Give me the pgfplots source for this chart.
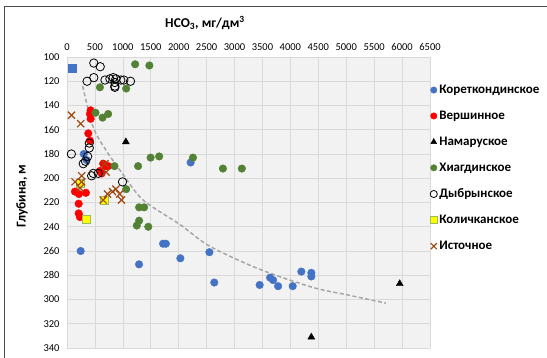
\documentclass[border=0pt]{standalone}
\usepackage{fontspec}
\setmainfont{Carlito}
\usepackage{pgfplots}
\pgfplotsset{compat=1.18}
\definecolor{cblue}{HTML}{4472C4}
\definecolor{cred}{HTML}{FF0000}
\definecolor{cgreen}{HTML}{548235}
\definecolor{cbrown}{HTML}{9E480E}
\definecolor{cyel}{HTML}{FFFF00}
\definecolor{cyelb}{HTML}{9BBB59}
\definecolor{ctrend}{HTML}{A6A6A6}
\begin{document}
\begin{tikzpicture}[x=1pt,y=1pt]
\useasboundingbox (0,0) rectangle (547,-358);
\draw[black!70, line width=0.8pt] (4,-360) -- (4,-6) -- (550,-6);
\begin{axis}[
  at={(248.5pt,-202.5pt)}, anchor=center,
  width=363pt, height=291pt, scale only axis,
  xmin=0, xmax=6500, ymin=100, ymax=340, y dir=reverse,
  xtick={0,500,...,6500}, ytick={100,120,...,340},
  xticklabel pos=top,
  grid=major, major grid style={draw=gray!30, line width=0.6pt},
  axis background/.style={fill=gray!10},
  axis line style={draw=none},
  tick style={draw=none},
  /pgf/number format/assume math mode=true,
  /pgf/number format/1000 sep={},
  ticklabel style={font=\fontsize{10.5}{12}\selectfont},
  yticklabel style={xshift=-4pt},
  xticklabel style={yshift=3pt},
  legend image code/.code={\draw[mark repeat=2,mark phase=2,#1,scale=0.85] plot coordinates {(0pt,0pt) (4pt,0pt) (8pt,0pt)};},
  legend style={draw=none, fill=none, inner xsep=0pt, at={(1.0,0.918)}, anchor=north west,
    font=\fontsize{13}{14}\selectfont\bfseries, row sep=12pt,
    nodes={inner xsep=2pt},
    /tikz/every even column/.append style={column sep=0pt}},
  legend cell align=left,
]
\addplot[only marks, mark=*, mark size=3.8pt, draw=cblue, fill=cblue] coordinates {
(245,260) (1290,271) (1720,254) (1770,254) (2030,266) (2550,261) (2637,286)
(3450,288) (3637,282) (3690,284) (3780,289) (4041,289) (4196,277) (4375,278)
(4375,281) (2214,187) (300,180) (350,185)};
\addlegendentry{Кореткондинское}
\addplot[only marks, mark=*, mark size=3.8pt, draw=cred, fill=cred] coordinates {
(423,144) (411,147) (423,151) (381,163) (411,169) (648,188) (696,190) (737,190)
(589,194) (620,196) (143,211) (214,213) (339,212) (209,221) (209,229) (232,232)};
\addlegendentry{Вершинное}
\addplot[only marks, mark=triangle*, mark size=4pt, draw=black, fill=black] coordinates {
(1054,170) (5958,287) (4375,331)};
\addlegendentry{Намаруское}
\addplot[only marks, mark=*, mark size=3.8pt, draw=cgreen, fill=cgreen] coordinates {
(1220,106) (1475,107) (590,125) (1060,126) (510,146) (637,150) (737,147)
(850,190) (1273,190) (1497,183) (1650,182) (2256,183) (2792,192) (3131,192)
(1060,209) (1291,224) (1381,224) (1291,235) (1250,239) (1455,240)};
\addlegendentry{Хиагдинское}
\addplot[only marks, mark=o, mark size=4.2pt, draw=black, line width=0.8pt] coordinates {
(480,105) (595,108) (360,120) (480,117) (680,119) (768,118) (827,117) (875,118)
(857,121) (857,124) (857,125) (964,119) (1018,119) (1137,120) (78,180) (399,171)
(399,175) (291,188) (330,186) (370,182) (441,198) (470,196) (559,196) (994,203)};
\addlegendentry{Дыбрынское}
\addplot[only marks, mark=square*, mark size=4pt, draw=cyelb, fill=cyel, line width=0.8pt] coordinates {
(240,204) (666,218) (351,234)};
\addlegendentry{Количканское}
\addplot[only marks, mark=x, mark size=5pt, draw=cbrown, line width=1.2pt] coordinates {
(80,148) (245,155) (263,198) (143,203) (263,203) (232,208) (680,188) (700,195)
(648,218) (726,213) (815,211) (875,209) (946,213) (976,218)};
\addlegendentry{Источное}
\addplot[forget plot, only marks, mark=square*, mark size=3.8pt, draw=cblue, fill=cblue] coordinates {(90,109)};
\addplot[forget plot, smooth, draw=ctrend, line width=1.5pt, dash pattern=on 4pt off 2.5pt] coordinates {
(280,124) (470,158) (700,177) (1006,197) (1363,218) (2018,238) (2554,256)
(3446,275) (4399,290) (5000,296) (5709,303)};
\end{axis}
\node[font=\fontsize{13.5}{15}\selectfont\bfseries] at (205,-23) {HCO\textsubscript{3}, мг/дм\textsuperscript{3}};
\node[font=\fontsize{13.5}{15}\selectfont\bfseries, rotate=90] at (22,-196) {Глубина, м};
\end{tikzpicture}
\end{document}
